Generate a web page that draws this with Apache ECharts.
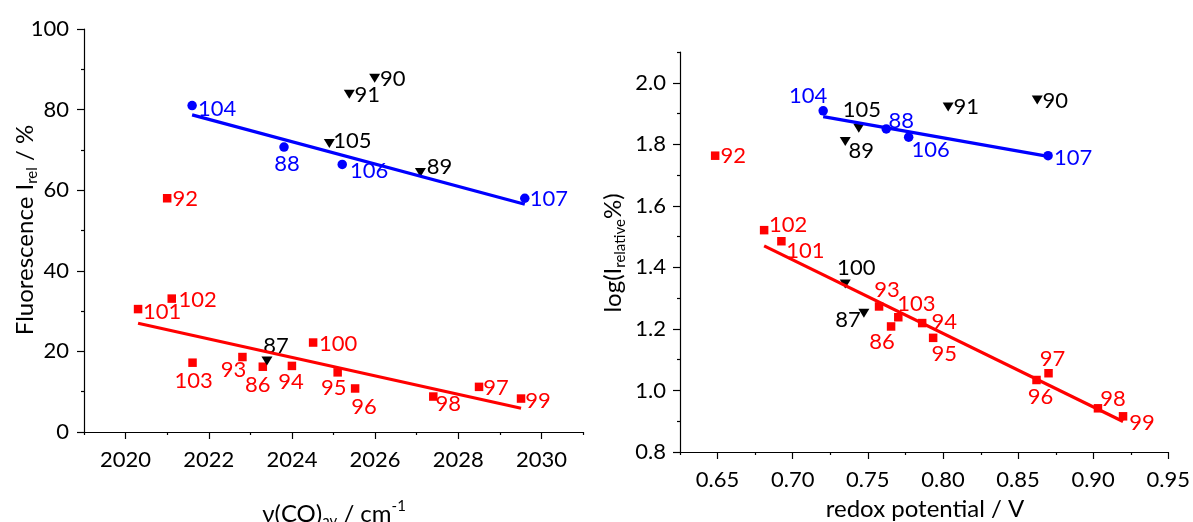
<!DOCTYPE html>
<html>
<head>
<meta charset="utf-8">
<script src="https://cdn.jsdelivr.net/npm/echarts@6/dist/echarts.min.js"></script>
<style>
  html, body { margin: 0; padding: 0; background: #ffffff; }
  #chart { width: 1193px; height: 522px; }
</style>
</head>
<body>
<div id="chart"></div>
<script>
// ---------- Left panel: I_rel (%) against averaged nu(CO) (cm-1) ----------
const leftRedIds = ['92', '101', '102', '103', '93', '86', '94', '100', '95', '96', '98', '97', '99'];
const leftRedNu  = [2021.00, 2020.30, 2021.11, 2021.61, 2022.81, 2023.30, 2024.00, 2024.51, 2025.10, 2025.52, 2027.40, 2028.50, 2029.51];
const leftRedI   = [58.0, 30.5, 33.1, 17.2, 18.6, 16.2, 16.4, 22.2, 14.8, 10.8, 8.8, 11.2, 8.3];

const leftBlueIds = ['104', '88', '106', '107'];
const leftBlueNu  = [2021.60, 2023.81, 2025.21, 2029.60];
const leftBlueI   = [81.0, 70.7, 66.4, 58.0];

const leftBlackIds = ['90', '91', '105', '89', '87'];
const leftBlackNu  = [2025.99, 2025.38, 2024.90, 2027.09, 2023.40];
const leftBlackI   = [87.8, 83.8, 71.6, 64.4, 17.6];

// linear fits (end points)
const leftBlueFit = [[2021.60, 78.7], [2029.60, 56.5]];
const leftRedFit  = [[2020.30, 27.0], [2029.51, 5.9]];

const leftXTicks      = [2020, 2022, 2024, 2026, 2028, 2030];
const leftXMinorTicks = [2019, 2021, 2023, 2025, 2027, 2029, 2031];

// ---------- Right panel: log(I_relative %) against redox potential (V) ----------
const rightRedIds = ['92', '102', '101', '93', '103', '86', '94', '95', '96', '97', '98', '99'];
const rightRedE   = [0.6484, 0.6810, 0.6925, 0.7575, 0.7703, 0.7655, 0.7862, 0.7935, 0.8623, 0.8703, 0.9032, 0.9199];
const rightRedLog = [1.763, 1.521, 1.485, 1.273, 1.238, 1.208, 1.219, 1.171, 1.034, 1.056, 0.942, 0.916];

const rightBlueIds = ['104', '88', '106', '107'];
const rightBlueE   = [0.7203, 0.7623, 0.7772, 0.8700];
const rightBlueLog = [1.909, 1.850, 1.823, 1.763];

const rightBlackIds = ['105', '89', '91', '90', '100', '87'];
const rightBlackE   = [0.7440, 0.7350, 0.8035, 0.8628, 0.7350, 0.7474];
const rightBlackLog = [1.852, 1.809, 1.921, 1.944, 1.346, 1.251];

const rightBlueFit = [[0.7203, 1.890], [0.8700, 1.761]];
const rightRedFit  = [[0.6810, 1.470], [0.9199, 0.899]];

const rightXTicks      = [0.65, 0.70, 0.75, 0.80, 0.85, 0.90, 0.95];
const rightXMinorTicks = [0.625, 0.675, 0.725, 0.775, 0.825, 0.875, 0.925];
const rightYTicks      = [0.8, 1.0, 1.2, 1.4, 1.6, 1.8, 2.0];
const rightYMinorTicks = [0.9, 1.1, 1.3, 1.5, 1.7, 1.9, 2.1];

// ---------- label placement (text centre relative to the marker, px) ----------
const leftLabelShift = {
  '101': [24, 3], '102': [26, 1], '103': [1, 18], '93': [-9, 13], '86': [-5, 18],
  '94': [-1, 16], '100': [25, 1], '95': [-4, 16], '96': [9, 18], '98': [15, 7],
  '97': [17, 1], '99': [17, 2], '87': [9, -15], '104': [25, 3], '88': [3, 17],
  '106': [27, 6], '105': [23, -3], '91': [18, 1], '90': [18, 1], '92': [18, 1],
  '89': [19, -6], '107': [24, 1]
};
const rightLabelShift = {
  '104': [-15, -15], '105': [3, -18], '89': [16, 9], '88': [15, -8], '106': [22, 13],
  '91': [18, 0], '90': [18, 1], '92': [18, 0], '107': [25, 2], '102': [24, -5],
  '101': [24, 10], '100': [11, -16], '93': [8, -17], '103': [18, -13], '87': [-16, 7],
  '86': [-9, 15], '94': [22, -1], '95': [11, 16], '97': [4, -14], '96': [4, 17],
  '98': [15, -9], '99': [19, 7]
};

const FONT = 'Lato, "Open Sans", "DejaVu Sans", sans-serif';
const RED = '#ff0000', BLUE = '#0000ff', BLACK = '#000000';

function points(ids, xs, ys, shifts) {
  return ids.map((id, i) => ({
    name: id,
    value: [xs[i], ys[i]],
    label: { offset: shifts[id] || [18, 0] }
  }));
}

function scatter(name, ids, xs, ys, shifts, color, symbol, size, rotate, axisIdx) {
  return {
    name: name,
    type: 'scatter',
    xAxisIndex: axisIdx, yAxisIndex: axisIdx,
    symbol: symbol, symbolSize: size, symbolRotate: rotate,
    itemStyle: { color: color, opacity: 1 },
    z: 2,
    label: {
      show: true, position: 'inside', formatter: '{b}',
      color: color, fontSize: 22, fontFamily: FONT, opacity: 1
    },
    emphasis: { disabled: true },
    data: points(ids, xs, ys, shifts)
  };
}

function fitLine(data, color, axisIdx) {
  return {
    type: 'line', xAxisIndex: axisIdx, yAxisIndex: axisIdx,
    data: data, symbol: 'none', silent: true, z: 3,
    lineStyle: { color: color, width: 3.2, opacity: 1 }
  };
}

const axisLine = { show: true, onZero: false, lineStyle: { color: BLACK, width: 1.2 } };
const tickLabel = { color: BLACK, fontSize: 22, fontFamily: FONT };

// main axes (grids 0 and 2) and overlaid axes that only carry the minor ticks (grids 1 and 3)
const xAxes = [
  {
    gridIndex: 0, type: 'value', min: 2019, max: 2031,
    axisLine: axisLine,
    axisTick: { show: true, customValues: leftXTicks, length: 7, lineStyle: { color: BLACK, width: 1.2 } },
    axisLabel: Object.assign({ customValues: leftXTicks, margin: 17, formatter: v => String(v) }, tickLabel),
    splitLine: { show: false }
  },
  {
    gridIndex: 1, type: 'value', min: 2019, max: 2031,
    axisLine: { show: false },
    axisTick: { show: true, customValues: leftXMinorTicks, length: 3, lineStyle: { color: BLACK, width: 1.2 } },
    axisLabel: { show: false }, splitLine: { show: false }
  },
  {
    gridIndex: 2, type: 'value', min: 0.625, max: 0.95,
    axisLine: axisLine,
    axisTick: { show: true, customValues: rightXTicks, length: 7, lineStyle: { color: BLACK, width: 1.2 } },
    axisLabel: Object.assign({ customValues: rightXTicks, margin: 17, formatter: v => v.toFixed(2) }, tickLabel),
    splitLine: { show: false }
  },
  {
    gridIndex: 3, type: 'value', min: 0.625, max: 0.95,
    axisLine: { show: false },
    axisTick: { show: true, customValues: rightXMinorTicks, length: 3, lineStyle: { color: BLACK, width: 1.2 } },
    axisLabel: { show: false }, splitLine: { show: false }
  }
];

const yAxes = [
  {
    gridIndex: 0, type: 'value', min: 0, max: 100, interval: 20,
    axisLine: axisLine,
    axisTick: { show: true, length: 7, lineStyle: { color: BLACK, width: 1.2 } },
    minorTick: { show: true, splitNumber: 2, length: 3, lineStyle: { color: BLACK, width: 1.2 } },
    axisLabel: Object.assign({ margin: 15 }, tickLabel),
    splitLine: { show: false }, minorSplitLine: { show: false }
  },
  {
    gridIndex: 1, type: 'value', min: 0, max: 100,
    axisLine: { show: false }, axisTick: { show: false },
    axisLabel: { show: false }, splitLine: { show: false }
  },
  {
    gridIndex: 2, type: 'value', min: 0.8, max: 2.1,
    axisLine: axisLine,
    axisTick: { show: true, customValues: rightYTicks, length: 7, lineStyle: { color: BLACK, width: 1.2 } },
    axisLabel: Object.assign({ customValues: rightYTicks, margin: 14, formatter: v => v.toFixed(1) }, tickLabel),
    splitLine: { show: false }
  },
  {
    gridIndex: 3, type: 'value', min: 0.8, max: 2.1,
    axisLine: { show: false },
    axisTick: { show: true, customValues: rightYMinorTicks, length: 3, lineStyle: { color: BLACK, width: 1.2 } },
    axisLabel: { show: false }, splitLine: { show: false }
  }
];

const leftRect  = { left: 84, top: 29, width: 499, height: 403 };
const rightRect = { left: 680, top: 52, width: 489, height: 400 };

const titleRich = {
  m:   { fontSize: 24, fontFamily: FONT, color: BLACK, lineHeight: 30 },
  sub: { fontSize: 15, fontFamily: FONT, color: BLACK, verticalAlign: 'bottom' },
  sup: { fontSize: 15, fontFamily: FONT, color: BLACK, verticalAlign: 'top' }
};

function title(x, y, rot, text) {
  return {
    type: 'text', x: x, y: y, rotation: rot, silent: true,
    style: { text: text, rich: titleRich, align: 'center', verticalAlign: 'middle', fill: BLACK }
  };
}

const option = {
  backgroundColor: '#ffffff',
  animation: false,
  grid: [
    Object.assign({ containLabel: false }, leftRect),
    Object.assign({ containLabel: false }, leftRect),
    Object.assign({ containLabel: false }, rightRect),
    Object.assign({ containLabel: false }, rightRect)
  ],
  xAxis: xAxes,
  yAxis: yAxes,
  series: [
    scatter('left-red', leftRedIds, leftRedNu, leftRedI, leftLabelShift, RED, 'rect', 8.5, 0, 0),
    scatter('left-blue', leftBlueIds, leftBlueNu, leftBlueI, leftLabelShift, BLUE, 'circle', 9.5, 0, 0),
    scatter('left-black', leftBlackIds, leftBlackNu, leftBlackI, leftLabelShift, BLACK, 'triangle', [11, 9], 180, 0),
    fitLine(leftBlueFit, BLUE, 0),
    fitLine(leftRedFit, RED, 0),
    scatter('right-red', rightRedIds, rightRedE, rightRedLog, rightLabelShift, RED, 'rect', 8.5, 0, 2),
    scatter('right-blue', rightBlueIds, rightBlueE, rightBlueLog, rightLabelShift, BLUE, 'circle', 9.5, 0, 2),
    scatter('right-black', rightBlackIds, rightBlackE, rightBlackLog, rightLabelShift, BLACK, 'triangle', [11, 9], 180, 2),
    fitLine(rightBlueFit, BLUE, 2),
    fitLine(rightRedFit, RED, 2)
  ],
  graphic: [
    title(25, 230, Math.PI / 2, '{m|Fluorescence I}{sub|rel}{m| / %}'),
    title(334, 514, 0, '{m|ν(CO)}{sub|av}{m| / cm}{sup|-1}'),
    title(613, 253, Math.PI / 2, '{m|log(I}{sub|relative}{m|%)}'),
    title(925, 509, 0, '{m|redox potential / V}')
  ]
};

const chart = echarts.init(document.getElementById('chart'), null, { renderer: 'canvas' });
chart.setOption(option);
</script>
</body>
</html>
